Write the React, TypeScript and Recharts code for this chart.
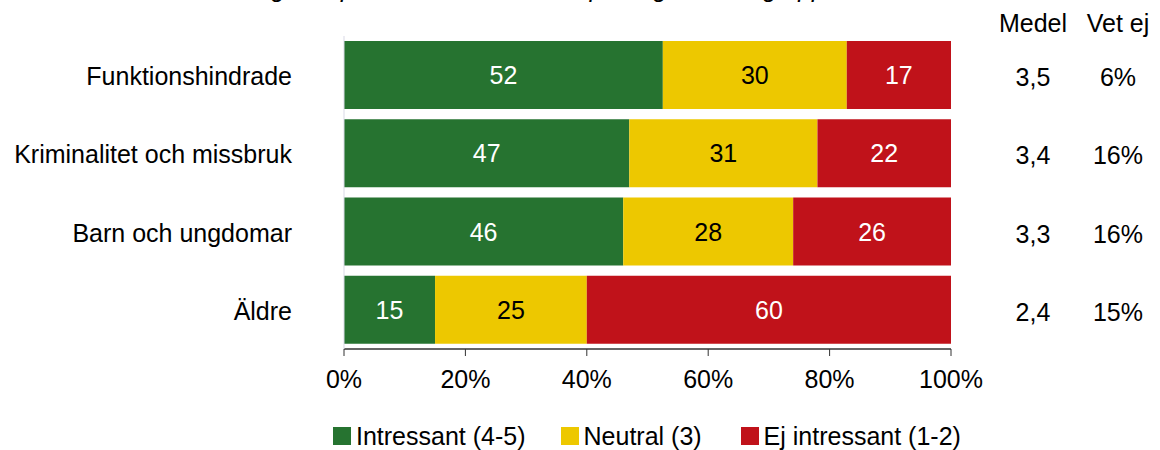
import React from 'react';
import { BarChart, Bar, XAxis, YAxis, LabelList } from 'recharts';

const categories = ['Funktionshindrade', 'Kriminalitet och missbruk', 'Barn och ungdomar', 'Äldre'];
const intressant = [52, 47, 46, 15];
const neutral = [30, 31, 28, 25];
const ejIntressant = [17, 22, 26, 60];
const medel = ['3,5', '3,4', '3,3', '2,4'];
const vetEj = ['6%', '16%', '16%', '15%'];
const xTicks = [0, 0.2, 0.4, 0.6, 0.8, 1];

const seriesNames = ['Intressant (4-5)', 'Neutral (3)', 'Ej intressant (1-2)'];
const seriesColors = ['#267330', '#EDC800', '#C0121A'];

const FONT = '"Liberation Sans", Arial, Helvetica, sans-serif';

const data = categories.map((name, i) => ({
  name,
  intressant: intressant[i],
  neutral: neutral[i],
  ejIntressant: ejIntressant[i],
  medel: medel[i],
  vetEj: vetEj[i],
}));

const CategoryTick = (props: any) => {
  const { y, payload } = props;
  return (
    <text x={292} y={y} dy={10} textAnchor="end" fontSize={25} fill="#000" fontFamily={FONT}>
      {payload.value}
    </text>
  );
};

const PercentTick = (props: any) => {
  const { x, y, payload } = props;
  return (
    <text x={x} y={y} dy={30} textAnchor="middle" fontSize={25} fill="#000" fontFamily={FONT}>
      {`${Math.round(payload.value * 100)}%`}
    </text>
  );
};

const makeBarLabel = (color: string) => (props: any) => {
  const { x, y, width, height, value } = props;
  return (
    <text
      x={x + width / 2}
      y={y + height / 2}
      dy={9}
      textAnchor="middle"
      fontSize={25}
      fill={color}
      fontFamily={FONT}
    >
      {value}
    </text>
  );
};

// draws the Medel / Vet ej columns beside each row
const SideColumns = (props: any) => {
  const { y, height, index } = props;
  const cy = y + height / 2 + 11;
  return (
    <g fontFamily={FONT} fontSize={25} fill="#000">
      <text x={1033} y={cy} textAnchor="middle">{medel[index]}</text>
      <text x={1118} y={cy} textAnchor="middle">{vetEj[index]}</text>
    </g>
  );
};

const App: React.FC = () => {
  return (
    <div style={{ position: 'absolute', left: 0, top: 0, width: 1160, height: 450, background: '#fff', fontFamily: FONT, overflow: 'hidden' }}>
      <div
        style={{
          position: 'absolute',
          left: 145,
          top: -26,
          fontSize: 25,
          fontStyle: 'italic',
          whiteSpace: 'nowrap',
          color: '#000',
          lineHeight: '28px',
        }}
      >
        Bas: Samtliga respondenter som svarat på frågan om lag upp
      </div>
      <div style={{ position: 'absolute', left: 1033, top: 8, transform: 'translateX(-50%)', fontSize: 25, lineHeight: '30px' }}>
        Medel
      </div>
      <div style={{ position: 'absolute', left: 1118, top: 8, transform: 'translateX(-50%)', fontSize: 25, lineHeight: '30px', whiteSpace: 'nowrap' }}>
        Vet ej
      </div>

      <BarChart
        width={1160}
        height={450}
        data={data}
        layout="vertical"
        stackOffset="expand"
        barCategoryGap={5}
        margin={{ top: 36, right: 209, bottom: 61, left: 0 }}
      >
        <XAxis
          type="number"
          domain={[0, 1]}
          ticks={xTicks}
          tick={<PercentTick />}
          axisLine={{ stroke: '#333', strokeWidth: 1.5 }}
          tickLine={{ stroke: '#333' }}
          tickSize={7}
          height={40}
          interval={0}
        />
        <XAxis
          xAxisId="top"
          orientation="top"
          type="number"
          domain={[0, 1]}
          tick={false}
          tickLine={false}
          axisLine={{ stroke: '#D9D9E6' }}
          height={0}
        />
        <YAxis
          type="category"
          dataKey="name"
          width={344}
          tick={<CategoryTick />}
          tickLine={false}
          axisLine={{ stroke: '#D9D9E6' }}
        />
        <YAxis
          yAxisId="right"
          orientation="right"
          type="category"
          dataKey="name"
          width={0}
          tick={false}
          tickLine={false}
          axisLine={{ stroke: '#D9D9E6' }}
        />
        <Bar dataKey="intressant" stackId="a" fill={seriesColors[0]} isAnimationActive={false}>
          <LabelList dataKey="intressant" content={makeBarLabel('#fff')} />
        </Bar>
        <Bar dataKey="neutral" stackId="a" fill={seriesColors[1]} isAnimationActive={false}>
          <LabelList dataKey="neutral" content={makeBarLabel('#000')} />
        </Bar>
        <Bar dataKey="ejIntressant" stackId="a" fill={seriesColors[2]} isAnimationActive={false}>
          <LabelList dataKey="ejIntressant" content={makeBarLabel('#fff')} />
          <LabelList dataKey="medel" content={SideColumns} />
        </Bar>
      </BarChart>

      <div style={{ position: 'absolute', left: 333, top: 427, display: 'flex', alignItems: 'center', fontSize: 25, lineHeight: '18px' }}>
        {seriesNames.map((name, i) => (
          <div key={name} style={{ display: 'flex', alignItems: 'center', marginRight: i === 0 ? 35 : 39 }}>
            <div style={{ width: 18, height: 18, background: seriesColors[i], marginRight: 5 }} />
            <span style={{ whiteSpace: 'nowrap' }}>{name}</span>
          </div>
        ))}
      </div>
    </div>
  );
};

export default App;
